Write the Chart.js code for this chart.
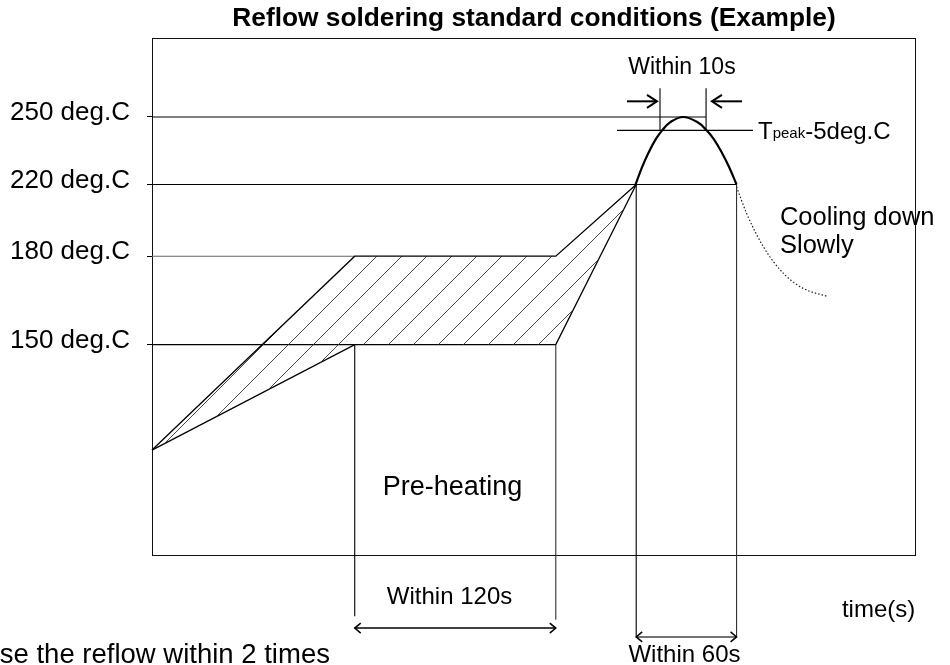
<!DOCTYPE html>
<html><head><meta charset="utf-8">
<script src="https://cdn.jsdelivr.net/npm/chart.js@4/dist/chart.umd.min.js"></script>
<style>html,body{margin:0;padding:0;background:#fff}#wrap{width:950px;height:665px;position:relative}</style>
</head><body><div id="wrap"><canvas id="c"></canvas></div>
<script>
// ---- data (schematic profile; axis is not to scale) ----
const levelLabels = ['250 deg.C', '220 deg.C', '180 deg.C', '150 deg.C'];
const levelPos    = [84.68, 71.65, 57.83, 40.77];
const levelEndX   = [330.7, 348.9, 121, 121];

const preheatX = [0, 121, 241, 289];
const upperY   = [20.43, 57.83, 57.83, 71.65];
const lowerY   = [20.43, 40.77, 40.77, 71.65];

const peakX = [288.6, 292.5, 296.2, 300.7, 304.5, 309.2, 317.0, 325.7, 331.0, 335.3, 340.3, 344.5, 348.9];
const peakY = [71.65, 75.0, 77.7, 80.4, 82.1, 83.65, 84.68, 83.65, 82.1, 80.4, 77.7, 75.0, 71.65];

const coolX = [348.9, 355.0, 365.0, 376.9, 388.8, 402.8];
const coolY = [71.2, 66.0, 59.6, 54.5, 51.6, 50.1];

const tpeakX = [277.5, 358.7];
const tpeakY = [82.1, 82.1];
const win10X = [303.2, 330.7];
const win10Top = 90.2;
const guideX   = [121, 241, 289, 348.9];
const guideTop = [40.77, 40.77, 71.65, 71.65];
const guideBot = [-11.6, -12.3, -15.6, -15.6];

const win10Arrows = [[283.5, 301.4], [352.2, 334.2]]; // [tail, head]
const win10ArrowY = 87.7;
const dim120 = [121, 241]; const dim120Y = -13.9;
const dim60  = [289, 348.9]; const dim60Y = -15.6;

// ---- helpers ----
const FONT = '"Liberation Sans", Arial, sans-serif';
const pts = (xs, ys) => xs.map((x, i) => ({x, y: ys[i]}));
function seg(data, extra) {
  return Object.assign({data, borderColor: '#000', borderWidth: 1.1, pointRadius: 0,
    fill: false, tension: 0, clip: false}, extra || {});
}
function hatchPattern() {
  const s = 25, c = document.createElement('canvas');
  c.width = s; c.height = s;
  const g = c.getContext('2d');
  g.strokeStyle = '#333'; g.lineWidth = 0.9;
  g.beginPath();
  g.moveTo(-2, s + 2); g.lineTo(s + 2, -2);
  g.moveTo(-2, 2); g.lineTo(2, -2);
  g.moveTo(s - 2, s + 2); g.lineTo(s + 2, s - 2);
  g.stroke();
  const p = g.createPattern(c, 'repeat');
  try { p.setTransform(new DOMMatrix([1, 0, 0, 1, 8, 0])); } catch (e) {}
  return p;
}

const datasets = [
  seg(pts(preheatX, upperY), {fill: '+1', backgroundColor: hatchPattern(), borderWidth: 1.3}),
  seg(pts(preheatX, lowerY), {borderWidth: 1.3}),
];
levelPos.forEach((p, i) => datasets.push(seg([{x: 0, y: p}, {x: levelEndX[i], y: p}],
  {borderColor: i === 2 ? '#666' : '#000'})));
datasets.push(seg(pts(peakX, peakY), {borderWidth: 2.2, tension: 0.4}));
datasets.push(seg(pts(coolX, coolY), {borderWidth: 1.2, borderDash: [1.5, 2], cubicInterpolationMode: 'monotone', borderColor: '#222'}));
datasets.push(seg(pts(tpeakX, tpeakY)));
win10X.forEach(x => datasets.push(seg([{x, y: win10Top}, {x, y: tpeakY[0]}])));
guideX.forEach((x, i) => datasets.push(seg([{x, y: guideTop[i]}, {x, y: guideBot[i]}],
  {borderColor: i === 3 || i === 1 ? '#333' : '#000'})));

// ---- annotations (text + arrows) drawn through the scales ----
const notes = [
  {t: 'Within 10s', x: 316.3, y: 92.9, a: 'center', s: 23},
  {t: 'Cooling down', x: 374.8, y: 63.9, a: 'left', s: 25.5},
  {t: 'Slowly', x: 374.8, y: 58.35, a: 'left', s: 25.5},
  {t: 'Pre-heating', x: 179.4, y: 11.76, a: 'center', s: 27},
  {t: 'Within 120s', x: 177.6, y: -9.25, a: 'center', s: 24},
  {t: 'time(s)', x: 411.8, y: -11.76, a: 'left', s: 24},
  {t: 'Within 60s', x: 317.8, y: -20.4, a: 'center', s: 24},
  {t: 'Use the reflow within 2 times', x: -102.7, y: -20.6, a: 'left', s: 27.5},
];

function head(ctx, x, y, dir, len, half) {
  ctx.beginPath();
  ctx.moveTo(x - dir * len, y - half); ctx.lineTo(x, y); ctx.lineTo(x - dir * len, y + half);
  ctx.stroke();
}

const annot = {
  id: 'annot',
  beforeDatasetsDraw(chart) {
    const {ctx, chartArea: a} = chart;
    ctx.save();
    ctx.strokeStyle = '#111'; ctx.lineWidth = 1;
    ctx.strokeRect(Math.round(a.left) + 0.5, Math.round(a.top) + 0.5,
      Math.round(a.right - a.left) - 1, Math.round(a.bottom - a.top) - 1);
    ctx.restore();
  },
  afterDraw(chart) {
    const {ctx} = chart, X = chart.scales.x, Y = chart.scales.y;
    const px = v => X.getPixelForValue(v), py = v => Y.getPixelForValue(v);
    ctx.save();
    ctx.fillStyle = '#000'; ctx.textBaseline = 'alphabetic';
    notes.forEach(n => {
      ctx.font = n.s + 'px ' + FONT; ctx.textAlign = n.a;
      ctx.fillText(n.t, px(n.x), py(n.y));
    });
    // T peak - 5 deg.C
    let x0 = px(361.7); const yb = py(80.4);
    ctx.textAlign = 'left';
    ctx.font = '24px ' + FONT; ctx.fillText('T', x0, yb); x0 += ctx.measureText('T').width;
    ctx.font = '15px ' + FONT; ctx.fillText('peak', x0, yb - 1); x0 += ctx.measureText('peak').width;
    ctx.font = '24px ' + FONT; ctx.fillText('-5deg.C', x0, yb);
    // within 10s arrows
    ctx.strokeStyle = '#000'; ctx.lineWidth = 2; ctx.lineCap = 'butt';
    win10Arrows.forEach(([t, h]) => {
      const y = py(win10ArrowY), a = px(t), b = px(h), dir = b > a ? 1 : -1;
      ctx.beginPath(); ctx.moveTo(a, y); ctx.lineTo(b, y); ctx.stroke();
      head(ctx, b, y, dir, 10, 6.5);
    });
    // dimension arrows
    [[dim120, dim120Y, '#000'], [dim60, dim60Y, '#444']].forEach(([d, yv, col]) => {
      const y = py(yv), a = px(d[0]), b = px(d[1]);
      ctx.strokeStyle = col; ctx.lineWidth = 1.5;
      ctx.beginPath(); ctx.moveTo(a, y); ctx.lineTo(b, y); ctx.stroke();
      ctx.strokeStyle = '#000';
      head(ctx, a, y, -1, 6, 5); head(ctx, b, y, 1, 6, 5);
    });
    ctx.restore();
  }
};

new Chart(document.getElementById('c'), {
  type: 'line',
  data: {datasets},
  plugins: [annot],
  options: {
    responsive: true, maintainAspectRatio: false, animation: false,
    layout: {padding: {left: 0, right: 34, top: 0, bottom: 109}},
    plugins: {
      legend: {display: false}, tooltip: {enabled: false},
      title: {display: true, fullSize: false,
        text: 'Reflow soldering standard conditions (Example)',
        color: '#000', font: {family: FONT, size: 26.3, weight: 'bold', lineHeight: 1.2},
        padding: {top: 3, bottom: 3}}
    },
    scales: {
      x: {type: 'linear', min: 0, max: 456, display: false},
      y: {type: 'linear', min: 0, max: 100,
        afterFit: s => { s.width = 152; },
        afterBuildTicks: s => { s.ticks = levelPos.map(v => ({value: v})); },
        border: {display: false},
        grid: {drawOnChartArea: false, drawTicks: true, tickLength: 5, color: '#000'},
        ticks: {color: '#000', padding: 17, labelOffset: -4, autoSkip: false,
          font: {family: FONT, size: 26},
          callback: v => levelLabels[levelPos.indexOf(v)]}
      }
    }
  }
});
</script></body></html>
